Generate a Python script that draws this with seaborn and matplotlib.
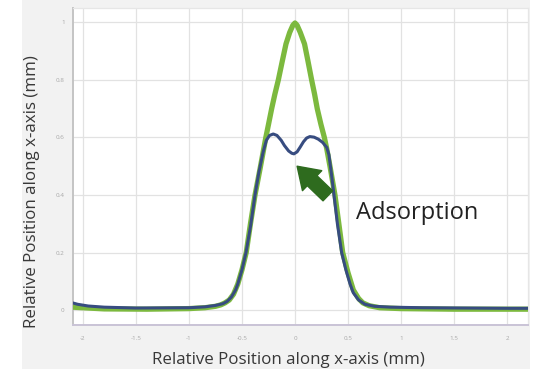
import matplotlib
matplotlib.use("Agg")
import matplotlib.pyplot as plt
import seaborn as sns
import pandas as pd
from matplotlib.patches import Rectangle

# ---- data ----
green_x = [-2.1, -1.8, -1.4, -1.0, -0.85, -0.75, -0.7, -0.66, -0.62, -0.58, -0.54, -0.5,
           -0.46, -0.42, -0.377, -0.33, -0.3, -0.275, -0.25, -0.22, -0.19, -0.157, -0.12,
           -0.085, -0.05, -0.02, 0.0, 0.02, 0.05, 0.09, 0.12, 0.157, 0.185, 0.21, 0.245,
           0.277, 0.3, 0.33, 0.377, 0.41, 0.45, 0.5, 0.55, 0.6, 0.64, 0.7, 0.8, 1.0, 1.5,
           2.0, 2.25]
green_y = [0.01, 0.004, 0.003, 0.005, 0.008, 0.013, 0.018, 0.025, 0.035, 0.055, 0.09, 0.14,
           0.20, 0.30, 0.40, 0.49, 0.55, 0.60, 0.645, 0.70, 0.75, 0.80, 0.865,
           0.925, 0.965, 0.99, 0.998, 0.99, 0.965, 0.925, 0.87, 0.80, 0.75, 0.70, 0.645,
           0.60, 0.56, 0.50, 0.40, 0.31, 0.20, 0.13, 0.07, 0.04, 0.025, 0.015, 0.008, 0.005,
           0.003, 0.003, 0.003]

blue_x = [-2.1, -2.05, -1.95, -1.8, -1.5, -1.0, -0.85, -0.75, -0.68, -0.64, -0.6, -0.56,
          -0.54, -0.5, -0.462, -0.42, -0.377, -0.34, -0.3, -0.27, -0.24, -0.205, -0.17,
          -0.13, -0.1, -0.06, -0.03, -0.01, 0.02, 0.05, 0.08, 0.11, 0.14, 0.18, 0.22, 0.26,
          0.3, 0.32, 0.345, 0.368, 0.4, 0.44, 0.48, 0.52, 0.55, 0.6, 0.66, 0.75, 0.9, 1.2,
          1.6, 2.0, 2.25]
blue_y = [0.025, 0.02, 0.014, 0.01, 0.007, 0.008, 0.011, 0.016, 0.022, 0.03, 0.045, 0.07,
          0.09, 0.14, 0.20, 0.29, 0.40, 0.48, 0.55, 0.59, 0.607, 0.612, 0.607,
          0.59, 0.572, 0.553, 0.545, 0.543, 0.55, 0.567, 0.585, 0.598, 0.603, 0.601, 0.594,
          0.583, 0.565, 0.54, 0.47, 0.40, 0.30, 0.20, 0.14, 0.09, 0.06, 0.035, 0.02, 0.013,
          0.01, 0.008, 0.007, 0.006, 0.006]

x_ticks = [-2, -1.5, -1, -0.5, 0, 0.5, 1, 1.5, 2]
x_tick_labels = ["-2", "-1.5", "-1", "-0.5", "0", "0.5", "1", "1.5", "2"]
y_ticks = [0, 0.2, 0.4, 0.6, 0.8, 1]
y_tick_labels = ["0", "0.2", "0.4", "0.6", "0.8", "1"]

x_label = "Relative Position along x-axis (mm)"
y_label = "Relative Position along x-axis (mm)"
annotation = "Adsorption"

# ---- plot ----
sns.set_style("white")
plt.rcParams["font.family"] = ["Open Sans", "DejaVu Sans"]

fig = plt.figure(figsize=(5.5, 3.69), dpi=100)
fig.patch.set_facecolor("white")
fig.patches.append(Rectangle((22 / 550, 0.0), (530 - 22) / 550, 1.0,
                             transform=fig.transFigure, facecolor="#f2f2f2",
                             edgecolor="none", zorder=-5))
ax = fig.add_axes([73 / 550, (369 - 325) / 369, (528 - 73) / 550, (325 - 8) / 369])
ax.set_zorder(2)
ax.set_facecolor("white")

green_df = pd.DataFrame({"x": green_x, "y": green_y})
blue_df = pd.DataFrame({"x": blue_x, "y": blue_y})
sns.lineplot(data=green_df, x="x", y="y", ax=ax, color="#7cb93e", lw=3.8,
             sort=False, zorder=3)
sns.lineplot(data=blue_df, x="x", y="y", ax=ax, color="#374c80", lw=2.2,
             sort=False, zorder=4)

ax.set_xlim(-2.094, 2.198)
ax.set_ylim(-0.052, 1.05)
ax.set_xticks(x_ticks)
ax.set_xticklabels(x_tick_labels)
ax.set_yticks(y_ticks)
ax.set_yticklabels(y_tick_labels)
ax.tick_params(axis="both", length=0, labelsize=4.5, labelcolor="#a8a8a8")
ax.tick_params(axis="x", pad=8)
ax.tick_params(axis="y", pad=6)
ax.grid(True, color="#e2e2e2", lw=0.9)
for s in ["top", "right"]:
    ax.spines[s].set_color("#e6e6e6")
    ax.spines[s].set_linewidth(0.9)
ax.spines["left"].set_color("#c4c4c4")
ax.spines["left"].set_linewidth(1.4)
ax.spines["bottom"].set_color("#c9c3d6")
ax.spines["bottom"].set_linewidth(1.4)

ax.set_xlabel(x_label, fontsize=12.2, color="#383838")
ax.set_ylabel(y_label, fontsize=12.2, color="#383838")
ax.xaxis.set_label_coords(0.473, -0.085)
ax.yaxis.set_label_coords(-0.0725, 0.42)

ax.annotate("", xy=(0.02, 0.50), xytext=(0.31, 0.397),
            arrowprops=dict(arrowstyle="simple,head_length=0.75,head_width=1.0,tail_width=0.5",
                            color="#2e6b1e", shrinkA=0, shrinkB=0, mutation_scale=20),
            zorder=5)
ax.text(0.575, 0.337, annotation, fontsize=17, color="#222222", ha="left", va="center")

fig.savefig("out.png", dpi=100)
